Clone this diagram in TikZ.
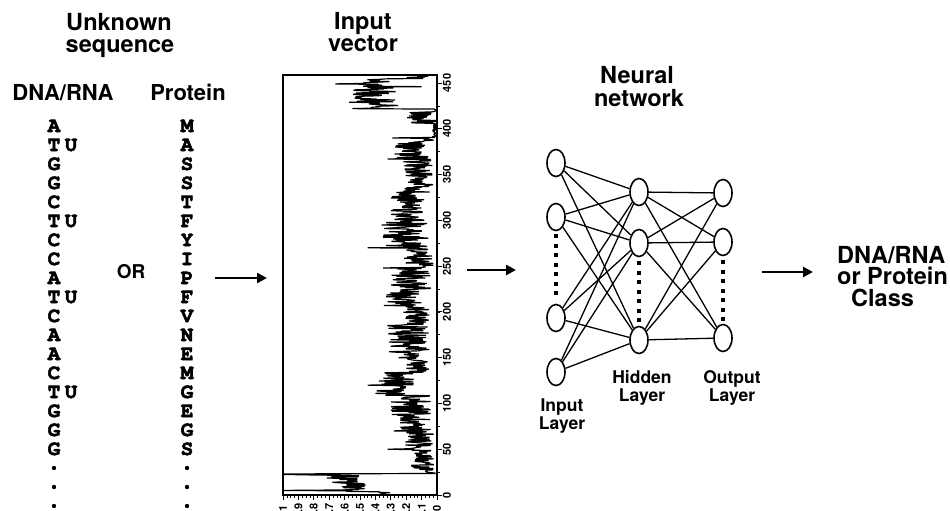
\documentclass[tikz,border=0pt]{standalone}
\usepackage{fontspec}
\setmainfont{TeX Gyre Heros}
\newfontfamily\seqfont{texgyrecursor-bold.otf}[FakeBold=2.6]
\usetikzlibrary{shapes.geometric,arrows.meta}
\tikzset{
  title/.style={font=\fontsize{23.5}{24}\selectfont\bfseries, anchor=base, inner sep=0},
  head/.style={font=\fontsize{22}{22}\selectfont\bfseries, anchor=base, inner sep=0},
  lab/.style={font=\fontsize{17.5}{17.5}\selectfont\bfseries, anchor=base, inner sep=0},
  seq/.style={font=\seqfont\fontsize{21}{21}\selectfont, anchor=base, inner sep=0},
  seqdot/.style={circle, fill=black, minimum size=4.4pt, inner sep=0},
  axlab/.style={font=\fontsize{11}{11}\selectfont\bfseries, rotate=90, inner sep=0},
  neuron/.style={draw, ellipse, minimum width=18pt, minimum height=27pt, inner sep=0, line width=1.6pt},
  conn/.style={line width=1.3pt},
  bigarrow/.style={line width=2.6pt, -{Triangle[length=10pt,width=10pt]}},
  dotline/.style={line width=4pt, dash pattern=on 4pt off 5.5pt},
}
\begin{document}
\begin{tikzpicture}[x=1pt,y=-1pt]
\useasboundingbox (0,0) rectangle (950,511);

% ---- Unknown sequence ----
\node[title] (t1a) at (119,31) {Unknown};
\node[title] (t1b) at (120,52.5) {sequence};
\node[head] (dna) at (63,100) {DNA/RNA};
\node[head] (prot) at (188,100) {Protein};
\node[font=\fontsize{19}{19}\selectfont\bfseries, anchor=base, inner sep=0] (or) at (131,278) {OR};

\foreach \l [count=\i from 0] in {A,T,G,G,C,T,C,C,A,T,C,A,A,C,T,G,G,G}
  \node[seq] (d\i) at (54,{132+19*\i}) {\l};
\foreach \i in {1,5,9,14}
  \node[seq] (u\i) at (71,{132+19*\i}) {U};
\foreach \l [count=\i from 0] in {M,A,S,S,T,F,Y,I,P,F,V,N,E,M,G,E,G,S}
  \node[seq] (p\i) at (187,{132+19*\i}) {\l};
\foreach \i in {18,19,20}{
  \node[seqdot] (dd\i) at (54,{126+19*\i}) {};
  \node[seqdot] (pd\i) at (187,{126+19*\i}) {};
}

% ---- arrow 1 ----
\coordinate (a1s) at (215,278);
\coordinate (a1e) at (267,278);
\draw[bigarrow] (a1s) -- (a1e);

% ---- Input vector ----
\node[title] (t2a) at (363,30) {Input};
\node[title] (t2b) at (363,52) {vector};
% data trace
\pgfmathsetseed{11}
\draw[line width=1.2pt, line join=bevel] (437,495)
  \foreach \a/\b/\lo/\hi in {
    0/7/0.28/0.42, 8/9/0.5/0.6, 10/10/1.0/1.0, 11/43/0.45/0.74, 44/44/0.85/0.85,
    45/46/1.0/1.0, 47/48/0.0/0.02, 49/88/0.02/0.17, 89/89/0.05/0.1, 90/99/0.03/0.2,
    100/100/0.32/0.32, 101/139/0.02/0.22, 140/140/0.28/0.28, 141/217/0.04/0.3,
    218/239/0.2/0.4, 240/240/0.45/0.45, 241/267/0.15/0.38, 268/299/0.05/0.2,
    300/371/0.05/0.33, 372/409/0.05/0.22, 410/449/0.1/0.36, 450/495/0.04/0.3,
    496/496/0.35/0.35, 497/539/0.02/0.22, 540/540/0.45/0.45, 541/601/0.05/0.36,
    602/661/0.08/0.3, 662/733/0.02/0.22, 734/734/0.32/0.32, 735/771/0.05/0.28,
    772/779/0.0/0.1, 780/780/0.29/0.29, 781/811/0.0/0.03, 812/837/0.0/0.2,
    838/843/0.0/0.02, 844/844/0.55/0.55, 845/857/0.25/0.45, 858/858/0.57/0.57,
    859/891/0.25/0.55, 892/892/0.1/0.1, 893/897/0.35/0.5, 898/898/0.66/0.66,
    899/909/0.3/0.5, 910/916/0.05/0.2}
  { \foreach \p in {\a,...,\b} { -- ({437-154*(\lo+(\hi-\lo)*rnd)},{495-0.4578*\p}) } };
\draw[line width=1.2pt] (283,75) rectangle (437,495);
\draw[line width=1.8pt] (283,75) -- (283,495);
% ticks bottom
\foreach \i in {0,...,40} \draw[line width=0.7pt] ({437-154*\i/40},495) -- ++(0,2.5);
\foreach \i in {0,...,10} \draw[line width=0.9pt] ({437-15.4*\i},495) -- ++(0,4.5);
\foreach \v/\t in {0/0,1/.1,2/.2,3/.3,4/.4,5/.5,6/.6,7/.7,8/.8,9/.9,10/1}
  \node[axlab] (bl\v) at ({437-15.4*\v},508) {\t};
% ticks right
\foreach \i in {0,...,18} \draw[line width=0.7pt] (437,{495-0.9156*25*\i}) -- ++(2.5,0);
\foreach \i in {0,...,9} \draw[line width=0.9pt] (437,{495-0.9156*50*\i}) -- ++(4.5,0);
\foreach \p in {0,50,...,450}
  \node[axlab] (rl\p) at (447,{495-0.9156*\p}) {\p};

% ---- arrow 2 ----
\coordinate (a2s) at (467,270);
\coordinate (a2e) at (516,270);
\draw[bigarrow] (a2s) -- (a2e);

% ---- Neural network ----
\node[title] (t3a) at (637,83) {Neural};
\node[title] (t3b) at (639,106) {network};
\foreach \n/\y in {1/163,2/217,3/318,4/372} \node[neuron] (i\n) at (556,\y) {};
\foreach \n/\y in {1/192,2/243,3/340} \node[neuron] (h\n) at (639,\y) {};
\foreach \n/\y in {1/193,2/242,3/338} \node[neuron] (o\n) at (723,\y) {};
\foreach \a in {1,...,4} \foreach \b in {1,2,3} \draw[conn] (i\a) -- (h\b);
\foreach \a in {1,2,3} \foreach \b in {1,2,3} \draw[conn] (h\a) -- (o\b);
\draw[dotline, shorten <=3pt, shorten >=4pt] (i2) -- (i3);
\draw[dotline, shorten <=4pt, shorten >=3pt] (h2) -- (h3);
\draw[dotline, shorten <=4pt, shorten >=3pt] (o2) -- (o3);
\node[lab] (li1) at (562,411) {Input};
\node[lab] (li2) at (562,429) {Layer};
\node[lab] (lh1) at (642,383) {Hidden};
\node[lab] (lh2) at (642,401) {Layer};
\node[lab] (lo1) at (732,383) {Output};
\node[lab] (lo2) at (732,401) {Layer};

% ---- arrow 3 ----
\coordinate (a3s) at (762,272);
\coordinate (a3e) at (813,272);
\draw[bigarrow] (a3s) -- (a3e);

\node[title, anchor=base west] (c1) at (837,263) {DNA/RNA};
\node[title, anchor=base west] (c2) at (837,284.5) {or Protein};
\node[title, anchor=base west] (c3) at (851,306) {Class};
\end{tikzpicture}
\end{document}
